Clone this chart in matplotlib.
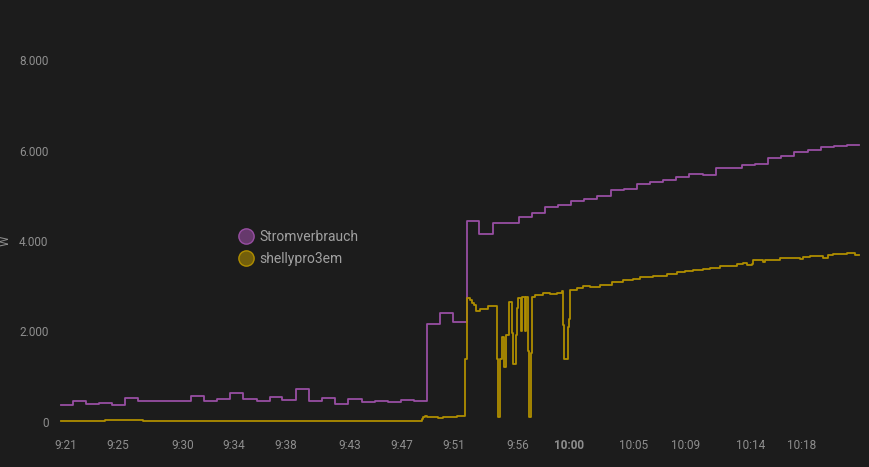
import matplotlib
matplotlib.use("Agg")
import matplotlib.pyplot as plt
from matplotlib.lines import Line2D

plt.rcParams['font.family'] = ['Roboto', 'DejaVu Sans']

# time in minutes after 9:00
strom_t = [20.61, 21.52, 22.53, 23.53, 24.56, 25.57, 26.60, 27.64, 28.65, 29.65,
           30.66, 31.69, 32.67, 33.70, 34.73, 35.77, 36.80, 37.75, 38.79, 39.82,
           40.85, 41.86, 42.87, 43.90, 44.91, 45.92, 46.93, 47.96, 48.96, 49.97,
           51.00, 52.04, 53.01, 54.05, 55.06, 56.09, 57.10, 58.10, 59.11, 60.14,
           61.15, 62.15, 63.19, 64.20, 65.21, 66.24, 67.24, 68.27, 69.28, 70.32,
           71.33, 72.36, 73.36, 74.37, 75.40, 76.41, 77.41, 78.45, 79.46, 80.47,
           81.50, 82.43]
strom_w = [375, 470, 398, 427, 383, 538, 471, 464, 464, 464,
           582, 471, 515, 634, 501, 464, 560, 493, 722, 464,
           523, 405, 501, 449, 471, 442, 493, 471, 2166, 2402,
           2210, 4442, 4161, 4405, 4405, 4538, 4612, 4760, 4789, 4884,
           4928, 5002, 5120, 5156, 5253, 5311, 5341, 5422, 5488, 5451,
           5620, 5620, 5673, 5709, 5834, 5885, 5960, 6011, 6085, 6107,
           6129, 6129]

shelly_t = [20.61, 24.0, 27.0, 30.0, 33.0, 36.0, 39.0, 42.0, 45.0, 47.0,
            48.55, 48.65, 48.77, 48.94, 49.84, 50.23, 51.26, 51.91, 52.04, 52.29,
            52.47, 52.60, 52.74, 53.07, 53.71, 54.41, 54.49, 54.62, 54.75, 54.95,
            55.08, 55.34, 55.52, 55.65, 55.83, 55.96, 56.04, 56.22, 56.35, 56.53,
            56.63, 56.76, 56.89, 57.00, 57.07, 57.33, 57.97, 58.49, 59.01, 59.40,
            59.50, 59.60, 59.86, 59.96, 60.04, 60.56, 61.07, 61.59, 62.36, 63.27,
            64.17, 64.94, 65.46, 66.49, 67.53, 68.30, 68.95, 69.59, 70.36, 70.88,
            71.66, 72.95, 73.46, 73.73, 74.11, 74.24, 75.01, 75.14, 76.31, 77.34,
            77.86, 78.11, 78.63, 79.66, 80.05, 80.43, 81.47, 82.12, 82.43]
shelly_w = [30, 35, 28, 32, 30, 27, 33, 30, 28, 32,
            60, 100, 133, 118, 95, 104, 133, 1386, 2734, 2696,
            2637, 2586, 2460, 2504, 2564, 1392, 118, 1392, 1885, 1222,
            1923, 2659, 1960, 1282, 1923, 2512, 2734, 2018, 2756, 2018,
            2756, 1576, 118, 1518, 2769, 2807, 2844, 2829, 2858, 2902,
            2144, 1386, 2093, 2270, 2917, 2955, 3006, 2990, 3028, 3101,
            3131, 3160, 3197, 3227, 3271, 3308, 3344, 3365, 3381, 3410,
            3448, 3485, 3507, 3463, 3492, 3573, 3529, 3587, 3617, 3631,
            3602, 3653, 3668, 3631, 3690, 3713, 3727, 3690, 3690]

tick_min = [21, 25, 30, 34, 38, 43, 47, 51, 56, 60, 65, 69, 74, 78]
tick_lbl = ['9:21', '9:25', '9:30', '9:34', '9:38', '9:43', '9:47', '9:51',
            '9:56', '10:00', '10:05', '10:09', '10:14', '10:18']
y_ticks = [0, 2000, 4000, 6000, 8000]
y_lbl = ['0', '2.000', '4.000', '6.000', '8.000']

bg = '#1c1c1c'
purple = '#984ea3'
gold = '#af8d00'
txt = '#8e8e8e'

fig = plt.figure(figsize=(8.69, 4.67), dpi=100, facecolor=bg)
ax = fig.add_axes([61 / 869, 1 - 422 / 467, 798 / 869, 362 / 467], facecolor=bg)

ax.plot(strom_t, strom_w, drawstyle='steps-post', color=purple, lw=1.3, clip_on=False)
ax.plot(shelly_t, shelly_w, drawstyle='steps-post', color=gold, lw=1.3, clip_on=False)

ax.set_xlim(20.61, 82.43)
ax.set_ylim(0, 8000)
ax.set_xticks(tick_min)
ax.set_xticklabels(tick_lbl)
ax.set_yticks(y_ticks)
ax.set_yticklabels(y_lbl)
for lab in ax.get_xticklabels():
    if lab.get_text() == '10:00':
        lab.set_fontweight('bold')
ax.tick_params(length=0, colors=txt, labelsize=8.5)
ax.tick_params(axis='x', pad=12)
ax.tick_params(axis='y', pad=9)
for s in ax.spines.values():
    s.set_visible(False)

fig.text(5 / 869, 1 - 241 / 467, 'W', rotation=90, color=txt, fontsize=8.5,
         ha='center', va='center')

handles = [
    Line2D([], [], ls='none', marker='o', ms=11, mfc=purple + '99', mec=purple, mew=1),
    Line2D([], [], ls='none', marker='o', ms=11, mfc=gold + '99', mec=gold, mew=1),
]
fig.legend(handles, ['Stromverbrauch', 'shellypro3em'], loc='upper left',
           bbox_to_anchor=(232 / 869, 1 - 223 / 467), frameon=False,
           labelcolor='#a0a0a0', fontsize=10, handlelength=1.0,
           handletextpad=0.45, labelspacing=0.6, borderpad=0)

fig.savefig('out.png', dpi=100, facecolor=bg)
